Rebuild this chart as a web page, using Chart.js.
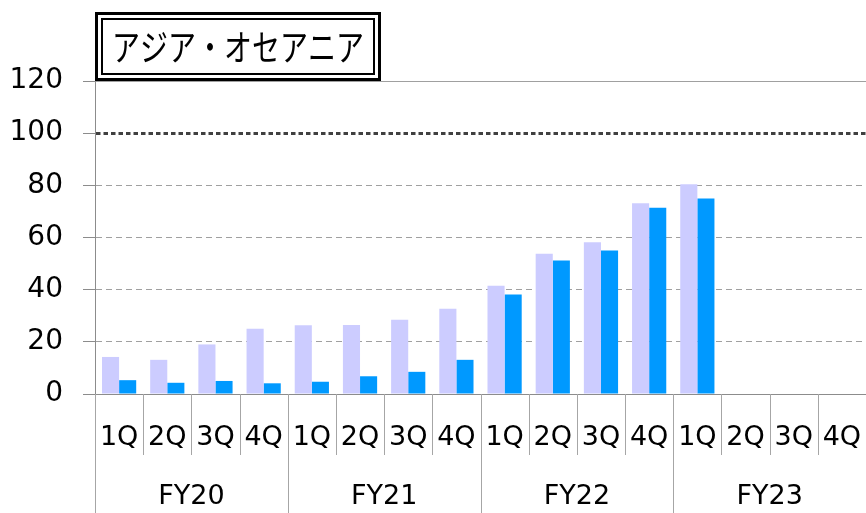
<!DOCTYPE html>
<html>
<head>
<meta charset="utf-8">
<script src="https://cdn.jsdelivr.net/npm/chart.js@4/dist/chart.umd.min.js"></script>
<style>
  body { margin: 0; background: #fff; }
  #wrap { width: 866px; height: 513px; }
</style>
</head>
<body>
<div id="wrap"><canvas id="c" width="866" height="513"></canvas></div>
<script>
// datos
const titleText = 'アジア・オセアニア';
const fiscalYears = ['FY20', 'FY21', 'FY22', 'FY23'];
const quarters = ['1Q', '2Q', '3Q', '4Q'];
const seriesLight = [14.2, 13.1, 19.0, 25.0, 26.4, 26.5, 28.5, 32.7, 41.5, 53.8, 58.2, 73.1, 80.4, null, null, null];
const seriesBlue = [5.3, 4.3, 5.0, 4.1, 4.7, 6.8, 8.5, 13.1, 38.1, 51.2, 55.0, 71.4, 75.0, null, null, null];
const yTicks = [0, 20, 40, 60, 80, 100, 120];

const labels = [];
fiscalYears.forEach(fy => quarters.forEach(q => labels.push(fy + ' ' + q)));

const FONT_NUM = '"DejaVu Sans", Verdana, sans-serif';

// titulo con doble borde
const titleBox = {
    id: 'titleBox',
    afterDraw(chart) {
        const ctx = chart.ctx;
        ctx.save();
        ctx.fillStyle = '#fff';
        ctx.fillRect(95, 12, 286, 69);
        ctx.strokeStyle = '#000';
        ctx.lineWidth = 3;
        ctx.strokeRect(96.5, 13.5, 283, 66);
        ctx.lineWidth = 2;
        ctx.strokeRect(102, 19, 272, 55);
        ctx.fillStyle = '#000';
        ctx.font = '28px "Noto Sans CJK JP", sans-serif';
        ctx.textAlign = 'center';
        ctx.textBaseline = 'middle';
        // el texto original es algo mas alto que ancho
        ctx.translate(238, 47);
        ctx.scale(1, 1.3);
        ctx.fillText(titleText, 0, 0);
        ctx.restore();
    }
};

// etiquetas de dos niveles y separadores del eje x
const twoLevelAxis = {
    id: 'twoLevelAxis',
    afterDraw(chart) {
        const ctx = chart.ctx;
        const x = chart.scales.x;
        const base = x.bottom;
        const n = labels.length;
        const step = x.getPixelForValue(1) - x.getPixelForValue(0);
        const edge = i => x.getPixelForValue(i) - step / 2;

        ctx.save();
        ctx.strokeStyle = '#a6a6a6';
        ctx.lineWidth = 1;
        for (let i = 0; i <= n; i++) {
            const px = Math.round(edge(i)) + 0.5;
            const end = (i % quarters.length === 0) ? chart.height : base + 61;
            ctx.beginPath();
            ctx.moveTo(px, base);
            ctx.lineTo(px, end);
            ctx.stroke();
        }

        ctx.fillStyle = '#000';
        ctx.textAlign = 'center';
        ctx.textBaseline = 'middle';
        ctx.font = '27px ' + FONT_NUM;
        labels.forEach((l, i) => {
            ctx.fillText(quarters[i % quarters.length], x.getPixelForValue(i), base + 44);
        });
        fiscalYears.forEach((fy, k) => {
            const cx = (edge(k * 4) + edge(k * 4 + 4)) / 2;
            ctx.fillText(fy, cx, base + 103);
        });
        ctx.restore();
    }
};

const ctx = document.getElementById('c').getContext('2d');
new Chart(ctx, {
    type: 'bar',
    data: {
        labels: labels,
        datasets: [
            { data: seriesLight, backgroundColor: '#CCCCFF', borderWidth: 0 },
            { data: seriesBlue, backgroundColor: '#0099FF', borderWidth: 0 }
        ]
    },
    options: {
        responsive: false,
        animation: false,
        layout: { padding: { top: 81, right: 0, bottom: 119, left: 0 } },
        datasets: { bar: { categoryPercentage: 0.71, barPercentage: 1 } },
        plugins: {
            legend: { display: false },
            tooltip: { enabled: false }
        },
        scales: {
            x: {
                grid: { display: false, drawTicks: false },
                ticks: { display: false },
                border: { display: true, color: '#8c8c8c', width: 1 }
            },
            y: {
                min: 0,
                max: 120,
                afterBuildTicks: (scale) => { scale.ticks = yTicks.map(v => ({ value: v })); },
                afterFit: (scale) => { scale.width = 95; },
                ticks: {
                    padding: 20,
                    color: '#000',
                    font: { family: FONT_NUM, size: 28 }
                },
                grid: {
                    drawTicks: true,
                    tickLength: 12,
                    tickColor: '#8c8c8c',
                    tickWidth: 1,
                    tickBorderDash: [],
                    color: (c) => {
                        const v = c.tick ? c.tick.value : null;
                        if (v === 100) return '#404040';
                        if (v === 0) return '#8c8c8c';
                        return '#a0a0a0';
                    },
                    lineWidth: (c) => (c.tick && c.tick.value === 100) ? 3 : 1
                },
                border: {
                    display: true,
                    color: '#8c8c8c',
                    width: 1,
                    dash: (c) => {
                        const v = c.tick ? c.tick.value : null;
                        if (v === 100) return [4.5, 3];
                        if (v === 0 || v === 120 || v === null) return [];
                        return [6, 4];
                    }
                }
            }
        }
    },
    plugins: [titleBox, twoLevelAxis]
});
</script>
</body>
</html>
